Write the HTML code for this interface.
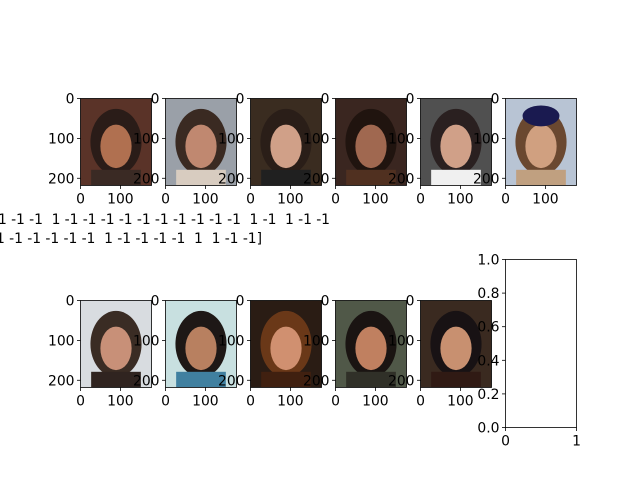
<!DOCTYPE html>
<html><head><meta charset="utf-8"><style>
html,body{margin:0;padding:0;background:#fff;}
svg{display:block;font-family:"DejaVu Sans","Liberation Sans",sans-serif;}
.pre{white-space:pre;}
</style></head><body>
<svg id="fig" width="640" height="480" viewBox="0 0 640 480">
<rect width="640" height="480" fill="#fff"/>
<text class="pre" xml:space="preserve" x="-2" y="224" font-size="13.9" textLength="332" lengthAdjust="spacing">1 -1 -1  1 -1 -1 -1 -1 -1 -1 -1 -1 -1 -1  1 -1  1 -1 -1</text>
<text class="pre" xml:space="preserve" x="-4" y="243" font-size="13.9" textLength="266" lengthAdjust="spacing">1 -1 -1 -1 -1 -1  1 -1 -1 -1 -1  1  1 -1 -1]</text>
</svg>
<script>
const imgXTicks=[0,100];
const imgYTicks=[0,100,200];
const imgW=178, imgH=218;
const emptyTicks=[0.0,0.2,0.4,0.6,0.8,1.0];
const emptyXTicks=[0,1];
// face colors: background, hair, skin, clothing
const faces=[
 ["#5a3328","#2a1c18","#b07050","#3a2a24"],
 ["#9aa0a8","#3a2a22","#c08870","#d8ccc0"],
 ["#3a2c20","#2a1e18","#d0a088","#202020"],
 ["#3a2620","#20140f","#a06850","#503020"],
 ["#505050","#2a2020","#d0a088","#f0f0f0"],
 ["#b8c4d4","#6a4830","#d0a080","#c0a080"],
 ["#d8dce0","#3a2c24","#c89078","#302420"],
 ["#c8e0e0","#1e1816","#b88060","#4080a0"],
 ["#2a1c14","#6a3818","#d09070","#402010"],
 ["#505848","#1a1412","#c08060","#303028"],
 ["#3a2a20","#181214","#c89070","#301a14"]
];
const NS="http://www.w3.org/2000/svg";
const svg=document.getElementById('fig');
function el(t,a,p){const e=document.createElementNS(NS,t);for(const k in a)e.setAttribute(k,a[k]);(p||svg).appendChild(e);return e;}
const cols=[80.5,165.5,250.5,335.5,420.5,505.5];
const rows=[98.5,300.5];
const sc=71/imgW;
faces.forEach((f,i)=>{
 const x0=cols[i%6], y0=rows[Math.floor(i/6)];
 const w=imgW*sc, h=imgH*sc;
 const g=el('g',{});
 
 
 el('rect',{x:x0,y:y0,width:w,height:h,fill:f[0]},g);
 el('ellipse',{cx:x0+w*0.5,cy:y0+h*0.5,rx:w*0.36,ry:h*0.38,fill:f[1]},g);
 el('rect',{x:x0+w*0.15,y:y0+h*0.82,width:w*0.7,height:h*0.18,fill:f[3]},g);
 el('ellipse',{cx:x0+w*0.5,cy:y0+h*0.55,rx:w*0.22,ry:h*0.25,fill:f[2]},g);
 if(i===5) el('ellipse',{cx:x0+w*0.5,cy:y0+h*0.2,rx:w*0.26,ry:h*0.12,fill:"#1a1a50"},g);
 el('rect',{x:x0,y:y0,width:w,height:h,fill:'none',stroke:'#000','stroke-width':0.8},g);
 imgXTicks.forEach(t=>{const x=x0+t*sc;
  el('line',{x1:x,y1:y0+h,x2:x,y2:y0+h+3.5,stroke:'#000','stroke-width':0.8},g);
  const tx=el('text',{x:x,y:y0+h+18,'font-size':13.9,'text-anchor':'middle'},g);tx.textContent=t;});
 imgYTicks.forEach(t=>{const y=y0+t*sc;
  el('line',{x1:x0,y1:y,x2:x0-3.5,y2:y,stroke:'#000','stroke-width':0.8},g);
  const tx=el('text',{x:x0-6,y:y+5,'font-size':13.9,'text-anchor':'end'},g);tx.textContent=t;});
});
// empty axes
const ex=505.5, ey=259.5, ew=71, eh=168;
const eg=el('g',{});


el('rect',{x:ex,y:ey,width:ew,height:eh,fill:'none',stroke:'#000','stroke-width':0.8},eg);
emptyTicks.forEach(t=>{const y=ey+eh-t*eh;
 el('line',{x1:ex,y1:y,x2:ex-3.5,y2:y,stroke:'#000','stroke-width':0.8},eg);
 const tx=el('text',{x:ex-6,y:y+5,'font-size':13.9,'text-anchor':'end'},eg);tx.textContent=t.toFixed(1);});
emptyXTicks.forEach(t=>{const x=ex+t*ew;
 el('line',{x1:x,y1:ey+eh,x2:x,y2:ey+eh+3.5,stroke:'#000','stroke-width':0.8},eg);
 const tx=el('text',{x:x,y:ey+eh+18,'font-size':13.9,'text-anchor':'middle'},eg);tx.textContent=t;});
</script>
</body></html>
